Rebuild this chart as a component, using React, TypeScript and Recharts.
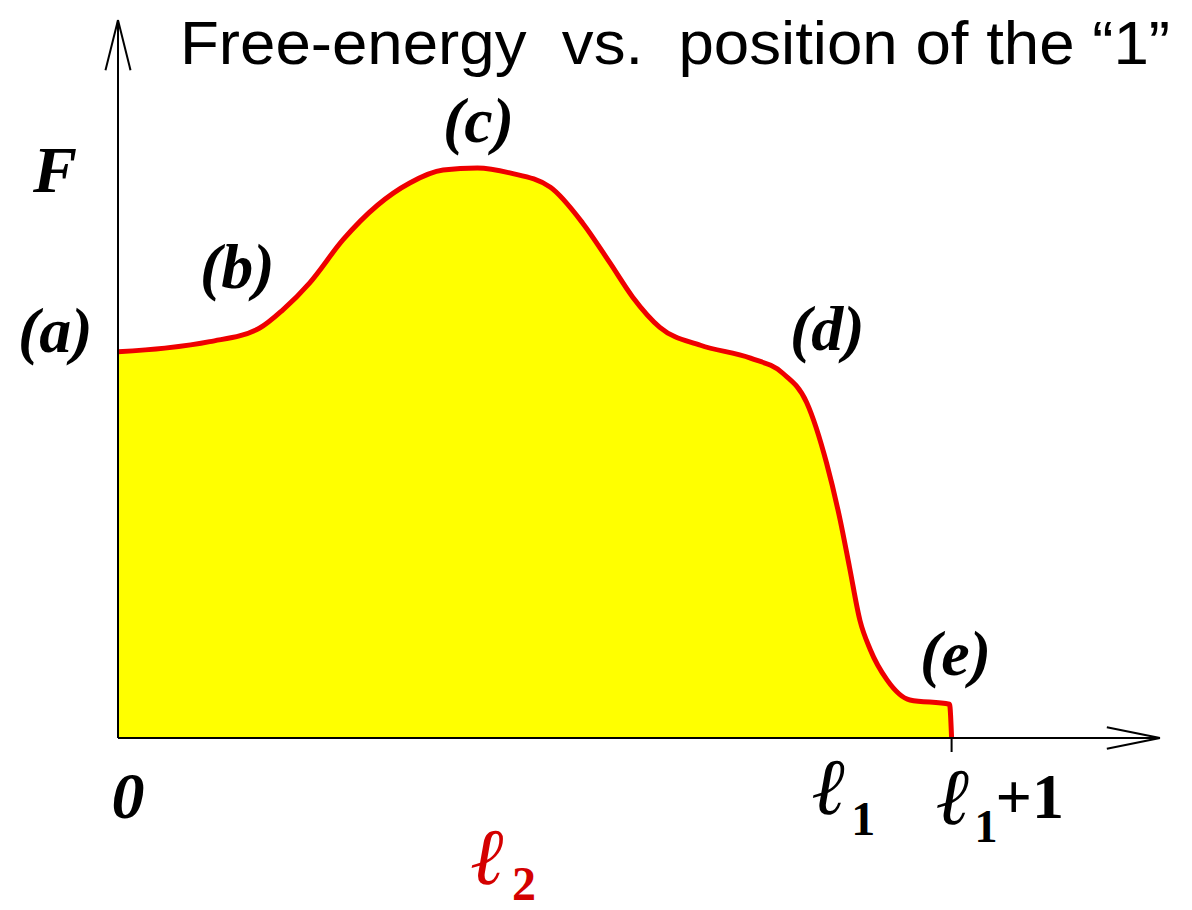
import React from "react";
import {
  ComposedChart,
  Area,
  XAxis,
  YAxis,
  ReferenceLine,
} from "recharts";

// position of the "1" (arbitrary units, 0..100 across the axis)
const positions = [
  0, 4.5, 8.8, 13.6, 15.8, 18.4, 21.6, 24.9, 28.0, 31.2, 34.5, 37.6, 41.5,
  44.6, 47.2, 49.4, 52.0, 55.9, 60.7, 63.8, 66.1, 68.0, 69.3, 70.2, 71.2,
  72.2, 73.8, 76.0, 79.8, 80.0,
];

// free energy at each position
const freeEnergy = [
  53.8, 54.3, 55.2, 57.1, 59.6, 63.4, 69.4, 74.2, 77.3, 79.1, 79.4, 78.7,
  76.7, 71.7, 66.2, 61.4, 57.2, 54.7, 52.9, 50.8, 46.7, 38.3, 30.4, 23.8,
  16.4, 12.3, 8.1, 5.3, 4.7, 0,
];

const xTicks = [0, 69.8, 80];
const xTickLabels = ["0", "\u2113|1", "\u2113|1|+1"];

const data = positions.map((x, i) => ({ x, F: freeEnergy[i] }));

const serif = "'Liberation Serif', 'Times New Roman', serif";
const ellFont = "'DejaVu Serif', serif";

function AxisTick(props: any) {
  const { x, y, payload, index } = props;
  const parts = (xTickLabels[index] || String(payload.value)).split("|");

  if (parts.length === 1) {
    return (
      <text
        x={x + 10}
        y={y + 80}
        textAnchor="middle"
        fontFamily={serif}
        fontWeight="bold"
        fontStyle="italic"
        fontSize={66}
        fill="#000"
      >
        {parts[0]}
      </text>
    );
  }

  if (parts.length === 2) {
    return (
      <g>
        <text x={x - 34} y={y + 76} fontFamily={ellFont} fontStyle="italic" fontSize={80} fill="#000">
          {parts[0]}
        </text>
        <text x={x + 6} y={y + 97} fontFamily={serif} fontWeight="bold" fontSize={48} fill="#000">
          {parts[1]}
        </text>
      </g>
    );
  }

  return (
    <g>
      <line x1={x} y1={y} x2={x} y2={y + 14} stroke="#000" strokeWidth={2} />
      <text x={x - 16} y={y + 86} fontFamily={ellFont} fontStyle="italic" fontSize={80} fill="#000">
        {parts[0]}
      </text>
      <text x={x + 23} y={y + 104} fontFamily={serif} fontWeight="bold" fontSize={46} fill="#000">
        {parts[1]}
      </text>
      <text x={x + 44} y={y + 80} fontFamily={serif} fontWeight="bold" fontSize={64} fill="#000">
        {parts[2]}
      </text>
    </g>
  );
}

export default function App() {
  return (
    <div style={{ position: "absolute", left: 0, top: 0, width: 1192, height: 910, background: "#fff" }}>

      {/* CHART */}

      <ComposedChart
        width={1192}
        height={910}
        data={data}
        margin={{ top: 20, right: 32, bottom: 0, left: 0 }}
      >
        <Area
          dataKey="F"
          type="monotone"
          fill="#ffff00"
          fillOpacity={1}
          stroke="#ee0000"
          strokeWidth={5}
          isAnimationActive={false}
          dot={false}
          activeDot={false}
        />

        <XAxis
          dataKey="x"
          type="number"
          domain={[0, 100]}
          ticks={xTicks}
          tick={<AxisTick />}
          tickLine={false}
          tickSize={0}
          tickMargin={0}
          height={172}
          axisLine={{ stroke: "#000", strokeWidth: 2 }}
          interval={0}
        />

        <YAxis
          type="number"
          domain={[0, 100]}
          tick={false}
          tickLine={false}
          width={118}
          axisLine={{ stroke: "#000", strokeWidth: 2 }}
        />

        {/* ARROW HEADS */}

        <ReferenceLine
          segment={[{ x: -1.2, y: 93 }, { x: 0, y: 100 }]}
          stroke="#000"
          strokeWidth={2}
          ifOverflow="visible"
        />
        <ReferenceLine
          segment={[{ x: 1.2, y: 93 }, { x: 0, y: 100 }]}
          stroke="#000"
          strokeWidth={2}
          ifOverflow="visible"
        />
        <ReferenceLine
          segment={[{ x: 94.9, y: 1.5 }, { x: 100, y: 0 }]}
          stroke="#000"
          strokeWidth={2}
          ifOverflow="visible"
        />
        <ReferenceLine
          segment={[{ x: 94.9, y: -1.5 }, { x: 100, y: 0 }]}
          stroke="#000"
          strokeWidth={2}
          ifOverflow="visible"
        />
      </ComposedChart>

      {/* LABELS */}

      <svg
        width={1192}
        height={910}
        style={{ position: "absolute", left: 0, top: 0, pointerEvents: "none" }}
      >
        <text
          x={180}
          y={64}
          fontFamily="'Liberation Sans Narrow', 'Liberation Sans', Arial, sans-serif"
          fontSize={62}
          textLength={990}
          lengthAdjust="spacingAndGlyphs"
          style={{ whiteSpace: "pre" }}
          fill="#000"
        >
          {"Free-energy  vs.  position of the \u201c1\u201d"}
        </text>

        <g fontFamily={serif} fontWeight="bold" fontStyle="italic" fill="#000">
          <text x={33} y={192} fontSize={66}>F</text>
          <text x={18} y={352} fontSize={64}>(a)</text>
          <text x={200} y={288} fontSize={64}>(b)</text>
          <text x={443} y={142} fontSize={64}>(c)</text>
          <text x={790} y={350} fontSize={64}>(d)</text>
          <text x={920} y={675} fontSize={64}>(e)</text>
        </g>

        <text x={470} y={884} fontFamily={ellFont} fontStyle="italic" fontSize={80} fill="#d40000">
          {"\u2113"}
        </text>
        <text x={512} y={900} fontFamily={serif} fontWeight="bold" fontSize={48} fill="#d40000">
          2
        </text>
      </svg>
    </div>
  );
}
